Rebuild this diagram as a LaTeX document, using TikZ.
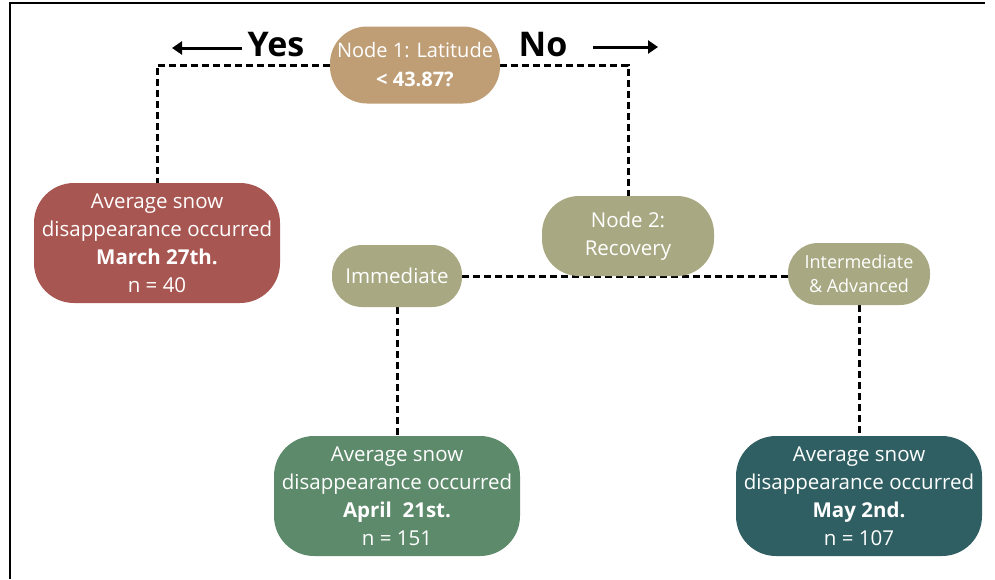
\documentclass[tikz,border=0pt]{standalone}
\usepackage{fontspec}
\setmainfont{Open Sans}
\usetikzlibrary{arrows.meta}
\pgfdeclarelayer{bg}
\pgfsetlayers{bg,main}
\definecolor{tancol}{HTML}{BF9E76}
\definecolor{redcol}{HTML}{A85651}
\definecolor{sagecol}{HTML}{A8A982}
\definecolor{greencol}{HTML}{5C8A6A}
\definecolor{tealcol}{HTML}{2F5F62}
\tikzset{
    every node/.style={inner sep=0mm, align=center, text=white, font=\fontsize{20.5}{28}\selectfont},
    pill/.style={rounded corners=37pt, minimum width=170pt, minimum height=77pt},
    small pill/.style={rounded corners=30pt, minimum height=62pt},
    leaf/.style={rounded corners=40pt, minimum width=246pt, minimum height=120pt},
    link/.style={draw=black, line width=3pt, dash pattern=on 7pt off 4pt},
    word/.style={text=black, font=\fontsize{34}{36}\selectfont\bfseries},
    pointer/.style={line width=3pt, -{Triangle[length=10pt, width=13pt]}}
}

\begin{document}
\begin{tikzpicture}[x=1pt, y=-1pt]
        \useasboundingbox (0,0) rectangle (995,579);
        \draw[line width=2.5pt] (10,579) -- (10,3) -- (985,3);
        \node (n1) [pill, fill=tancol, font=\fontsize{20}{29}\selectfont] at (415, 65) {Node 1: Latitude\\\textbf{< 43.87?}};
        \node (n2) [pill, fill=sagecol, minimum width=172pt, minimum height=80pt] at (628, 236) {Node 2:\\Recovery};
        \node (imm) [small pill, fill=sagecol, minimum width=130pt] at (397, 276) {Immediate};
        \node (adv) [small pill, fill=sagecol, minimum width=142pt, font=\fontsize{18}{24}\selectfont] at (859, 274) {Intermediate\\\& Advanced};
        \node (march) [leaf, fill=redcol] at (157, 243) {Average snow\\disappearance occurred\\\textbf{March 27th.}\\n = 40};
        \node (april) [leaf, fill=greencol] at (397, 496) {Average snow\\disappearance occurred\\\textbf{April\ \ 21st.}\\n = 151};
        \node (may) [leaf, fill=tealcol] at (859, 496) {Average snow\\disappearance occurred\\\textbf{May 2nd.}\\n = 107};
        \node (yes) [word] at (276, 45) {Yes};
        \node (no) [word] at (543, 45) {No};
        \coordinate (yesend) at (172, 48);
        \coordinate (nostart) at (593, 47);
        \coordinate (noend) at (658, 47);
        \draw[pointer] (yes.west |- yesend) ++(-6,0) -- (yesend);
        \draw[pointer] (nostart) -- (noend);
        \begin{pgfonlayer}{bg}
                \draw[link] (n1.west) -| (march.north);
                \draw[link] (n1.east) -| (n2.north);
                \draw[link] (imm.east) -- (imm.east -| adv.west);
                \draw[link] (imm.south) -- (april.north);
                \draw[link] (adv.south) -- (may.north);
        \end{pgfonlayer}
\end{tikzpicture}
\end{document}
